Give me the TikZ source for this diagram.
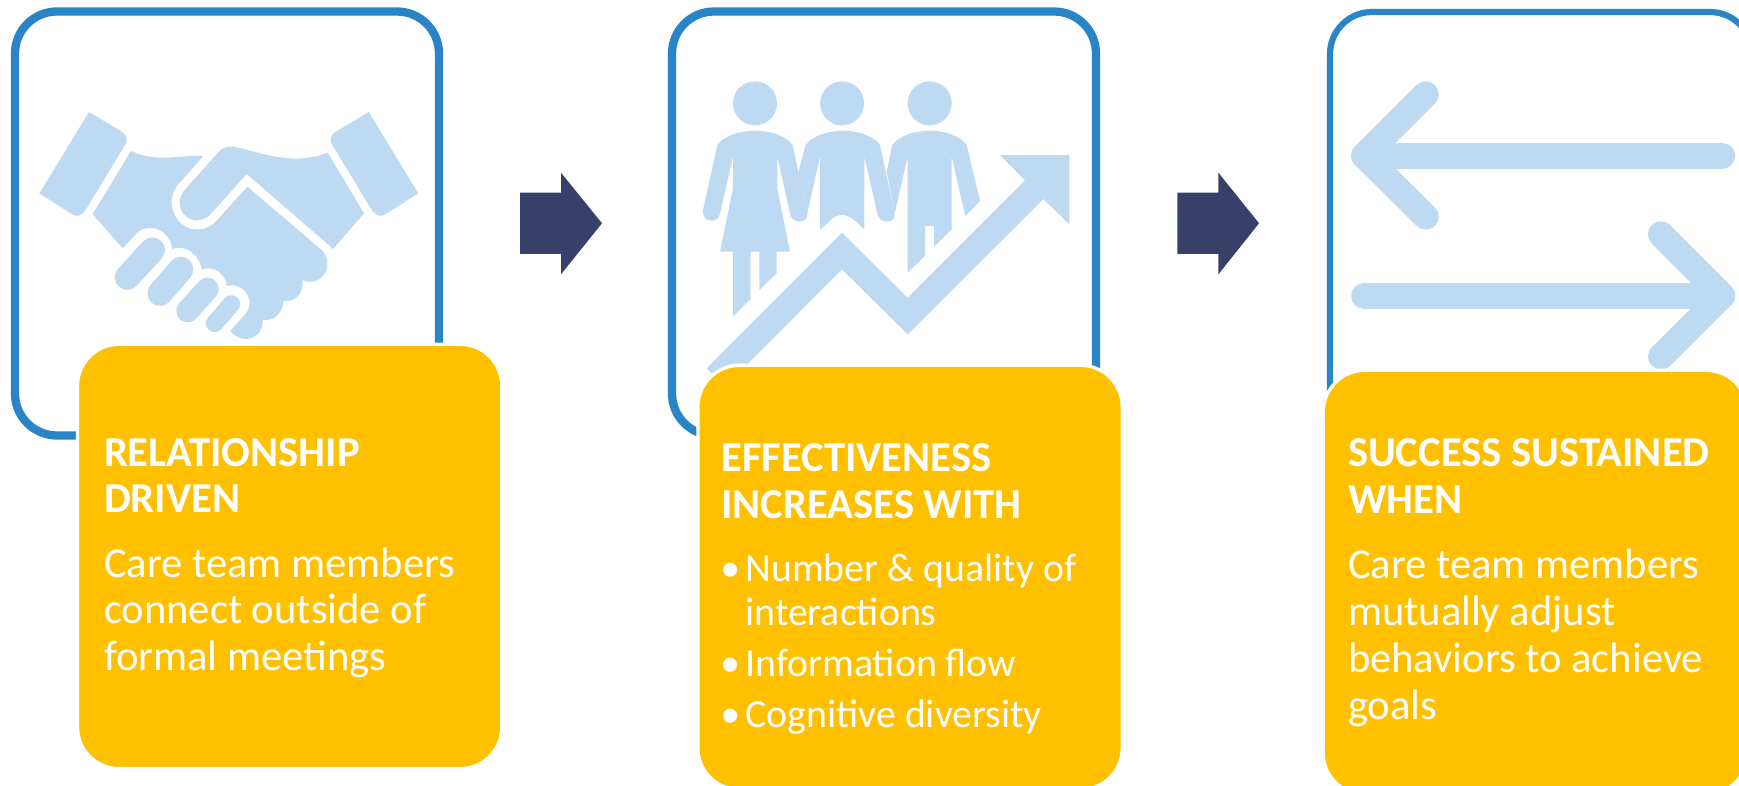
\documentclass[tikz,border=0pt]{standalone}
\usepackage{fontspec}
\setmainfont{Carlito}
\newfontfamily\bulletfont{Liberation Sans}
\definecolor{frameblue}{HTML}{2A85C8}
\definecolor{iconblue}{HTML}{BDDAF2}
\definecolor{boxgold}{HTML}{FFC000}
\definecolor{darknavy}{HTML}{364068}
\newcommand{\bul}{\makebox[12pt][l]{\raisebox{-2.7pt}{\bulletfont\fontsize{26}{23.3}\selectfont •}}}
\newcommand{\headB}[1]{{\fontsize{21.3}{23.3}\selectfont\textbf{#1}}}
\tikzset{
 x=0.5pt,y=-0.5pt,
 frame/.style={draw=frameblue,line width=4.15pt,rounded corners=21pt,fill=white,inner sep=0pt,outer sep=0pt,anchor=north west},
 goldbox/.style={draw=white,line width=1.65pt,fill=boxgold,rounded corners=20.8pt,inner sep=0pt,outer sep=0pt,anchor=north west,minimum width=212.15pt,minimum height=212.15pt},
 boxtext/.style={text=white,align=left,inner sep=0pt,outer sep=0pt,anchor=north west},
 icon/.style={fill=iconblue,draw=none},
 zooma/.style={x=0.166667pt,y=-0.166667pt},
 zoomb/.style={x=0.166667pt,y=-0.166667pt,xshift=330pt},
 zoomc/.style={x=0.18783pt,y=-0.166667pt,xshift=575pt},
 blockarrow/.style={fill=darknavy,draw=none},
 arrowline/.style={draw=iconblue,line width=13pt,line cap=round,line join=round},
 fingerline/.style={draw=iconblue,line cap=round},
}
\begin{document}
\begin{tikzpicture}
\useasboundingbox (0,0) rectangle (1739,786);
\clip (0,0) rectangle (1739,786);
% frames
\node[frame,minimum width=212pt,minimum height=212pt] (frameA) at (15,11.5) {};
\node[frame,minimum width=212pt,minimum height=212pt] (frameB) at (672,11.5) {};
\node[frame,line width=3.1pt,minimum width=211pt,minimum height=211pt] (frameC) at (1330,12) {};
% handshake
\begin{scope}[zooma]
\fill[icon] (267,336) -- (365,395) .. controls (382,405) and (384,425) .. (375,435) -- (258,628) .. controls (245,650) and (228,652) .. (215,642) -- (118,580) -- cycle;
\fill[icon] (1106,336) -- (1007,395) .. controls (990,405) and (988,425) .. (997,435) -- (1114,628) .. controls (1127,650) and (1144,652) .. (1157,642) -- (1255,580) -- cycle;
% left hand
\fill[icon] (393,453) .. controls (430,470) and (460,473) .. (490,473) .. controls (530,473) and (570,465) .. (610,468)
 -- (532,556) .. controls (505,590) and (510,640) .. (545,672) .. controls (580,700) and (625,690) .. (650,662)
 -- (742,560) -- (965,750) .. controls (982,768) and (985,790) .. (980,808)
 .. controls (972,838) and (935,855) .. (906,840) .. controls (915,875) and (885,910) .. (849,903)
 .. controls (850,940) and (820,965) .. (788,959) .. controls (790,995) and (765,1017) .. (735,1017)
 .. controls (720,1017) and (705,1008) .. (690,993) -- (738,940) .. controls (760,910) and (745,875) .. (720,862)
 .. controls (708,855) and (695,855) .. (681,858) .. controls (678,825) and (645,795) .. (605,808)
 .. controls (600,770) and (560,730) .. (517,747) .. controls (512,710) and (485,684) .. (450,684)
 .. controls (430,684) and (415,692) .. (405,705) -- (368,745) -- (278,642) -- cycle;
% right hand
\fill[icon] (983,458) .. controls (940,475) and (900,477) .. (870,475) .. controls (810,472) and (750,450) .. (700,440)
 .. controls (685,438) and (668,442) .. (655,457) -- (552,572) .. controls (530,600) and (538,635) .. (560,650)
 .. controls (585,670) and (615,660) .. (632,642) -- (740,522) -- (975,725) .. controls (985,733) and (992,740) .. (998,748)
 -- (1092,640) -- cycle;
\draw[fingerline,line width=12.6pt] (382,832) -- (457,750);
\draw[fingerline,line width=12.6pt] (480,880) -- (542,808);
\draw[fingerline,line width=11.4pt] (563,933) -- (622,867);
\draw[fingerline,line width=8.8pt] (644,970) -- (694,912);
\end{scope}
% people and zigzag
\begin{scope}[zoomb]
\fill[icon] (285,310) circle (11pt);
\fill[icon] (546,310) circle (11pt);
\fill[icon] (809,310) circle (11pt);
\fill[icon] (172,435) .. controls (215,378) and (355,378) .. (398,435) -- (415,515) -- (442,640)
 .. controls (446,672) and (395,675) .. (390,640) -- (352,470) -- (352,565) -- (390,755) -- (350,755) -- (350,820) -- (298,870) -- (298,755) -- (272,755) -- (272,897) -- (219,950) -- (219,755) -- (180,755) -- (219,565) -- (219,470) -- (180,640)
 .. controls (176,672) and (125,670) .. (129,630) -- cycle;
\fill[icon] (437,435) .. controls (480,378) and (617,378) .. (660,435) -- (677,515) -- (704,640)
 .. controls (708,672) and (657,675) .. (652,640) -- (613,470) -- (613,688) -- (582,660) .. controls (560,640) and (532,640) .. (512,660) -- (480,690) -- (480,470) -- (442,640) -- (415,515) -- cycle;
\fill[icon] (697,435) .. controls (740,378) and (877,378) .. (920,435) -- (960,603) -- (916,648) -- (875,470) -- (875,688) -- (822,740) -- (822,678) -- (795,678) -- (795,767) -- (743,818) -- (743,470) -- (704,640) -- (680,515) -- cycle;
\fill[icon] (140,1105) -- (546,698) -- (743,893) -- (1095,541) -- (1020,465) -- (1228,465) -- (1228,673) -- (1150,597) -- (743,1003) -- (546,808) -- (240,1115) -- (170,1135) -- cycle;
\end{scope}
% two-way arrows
\begin{scope}[zoomc]
\draw[arrowline] (734,283) -- (570,467) -- (734,650);
\draw[arrowline] (570,467) -- (1523,467);
\draw[arrowline] (1360,703) -- (1523,887) -- (1360,1070);
\draw[arrowline] (570,887) -- (1523,887);
\end{scope}
% block arrows
\fill[blockarrow] (520,192.7) -- (561,192.7) -- (561,172.7) -- (602,223.3) -- (561,274.3) -- (561,254) -- (520,254) -- cycle;
\fill[blockarrow] (1177.4,192.7) -- (1218.4,192.7) -- (1218.4,172.7) -- (1259,223.3) -- (1218.4,274.3) -- (1218.4,254) -- (1177.4,254) -- cycle;
% gold boxes
\node[goldbox] (goldA) at (77.5,344.3) {};
\node[goldbox] (goldB) at (697.9,365.3) {};
\node[goldbox] (goldC) at (1323.3,370.3) {};
% text
\node[boxtext,font=\fontsize{21.3}{23.1}\selectfont] (textA) at (104,438.4) {\textbf{RELATIONSHIP}\\\textbf{DRIVEN}\\[9.5pt]Care team members\\connect outside of\\formal meetings};
\node[boxtext,font=\fontsize{19.9}{23.3}\selectfont] (textB) at (721.5,444) {\headB{EFFECTIVENESS}\\\headB{INCREASES WITH}\\[8.4pt]\bul Number \& quality of\\[-1.3pt]\hspace*{12pt}interactions\\[2.2pt]\bul Information flow\\[2.2pt]\bul Cognitive diversity};
\node[boxtext,font=\fontsize{21.3}{23.5}\selectfont] (textC) at (1348,439) {\textbf{SUCCESS SUSTAINED}\\\textbf{WHEN}\\[8.65pt]Care team members\\mutually adjust\\behaviors to achieve\\goals};
\end{tikzpicture}
\end{document}
